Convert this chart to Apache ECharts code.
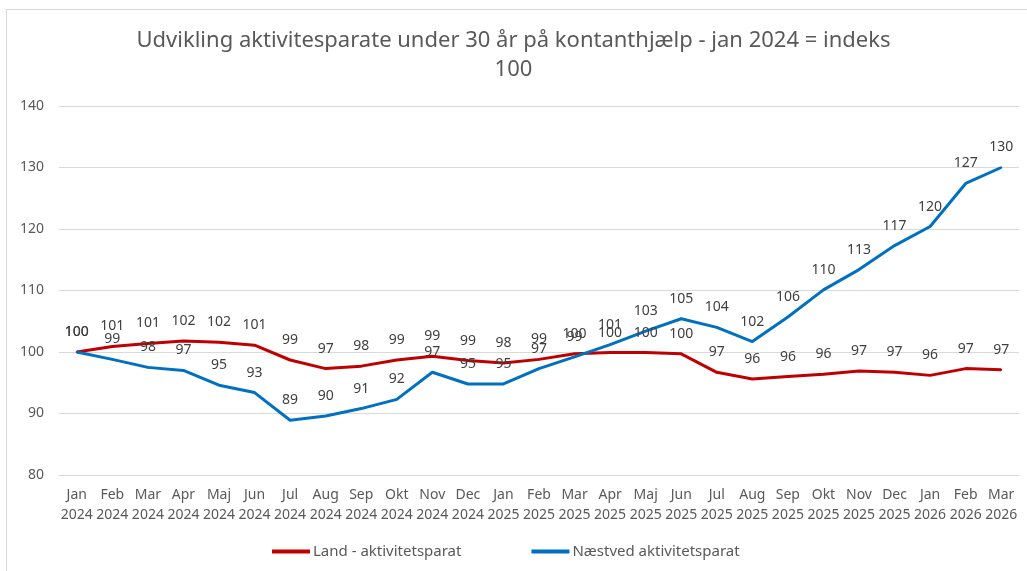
<!DOCTYPE html>
<html>
<head>
<meta charset="utf-8">
<script src="https://cdn.jsdelivr.net/npm/echarts@6/dist/echarts.min.js"></script>
<style>
    html, body { margin: 0; padding: 0; background: #fff; }
    #wrap { position: relative; width: 1027px; height: 571px; overflow: hidden; }
    #main { width: 1027px; height: 571px; }
    /* 外框 */
    #frame { position: absolute; left: 6px; top: 9px; width: 1040px; height: 600px;
        border-left: 1px solid #d9d9d9; border-top: 1px solid #d9d9d9; pointer-events: none; }
</style>
</head>
<body>
<div id="wrap">
    <div id="main"></div>
    <div id="frame"></div>
</div>
<script>
// 类目
var months = ['Jan', 'Feb', 'Mar', 'Apr', 'Maj', 'Jun', 'Jul', 'Aug', 'Sep', 'Okt', 'Nov', 'Dec',
    'Jan', 'Feb', 'Mar', 'Apr', 'Maj', 'Jun', 'Jul', 'Aug', 'Sep', 'Okt', 'Nov', 'Dec',
    'Jan', 'Feb', 'Mar']
var years = ['2024', '2024', '2024', '2024', '2024', '2024', '2024', '2024', '2024', '2024', '2024', '2024',
    '2025', '2025', '2025', '2025', '2025', '2025', '2025', '2025', '2025', '2025', '2025', '2025',
    '2026', '2026', '2026']
// 数据
var land = [100, 100.9, 101.4, 101.8, 101.6, 101.1, 98.7, 97.3, 97.7, 98.7, 99.3, 98.6,
    98.2, 98.8, 99.7, 99.9, 99.9, 99.7, 96.7, 95.6, 96.0, 96.4, 96.9, 96.7,
    96.2, 97.3, 97.1]
var naestved = [100, 98.8, 97.5, 97.0, 94.6, 93.4, 88.9, 89.6, 90.8, 92.3, 96.7, 94.8,
    94.8, 97.3, 99.2, 101.2, 103.4, 105.4, 104.0, 101.7, 105.7, 110.1, 113.4, 117.3,
    120.4, 127.4, 130.0]
var yTicks = [80, 90, 100, 110, 120, 130, 140]

var categories = []
for (var i = 0; i < months.length; i++) {
    categories.push(months[i] + '\n' + years[i])
}

var myChart = echarts.init(document.getElementById('main'))
var font = '"Noto Sans", sans-serif'

function lineSeries(name, data, color) {
    return {
        name: name,
        type: 'line',
        data: data,
        symbol: 'circle',
        symbolSize: 2,
        itemStyle: { color: color },
        lineStyle: { color: color, width: 3 },
        label: {
            show: true,
            position: 'top',
            distance: 12,
            color: '#404040',
            fontSize: 14,
            fontFamily: font,
            formatter: function (p) { return Math.round(p.value) }
        }
    }
}

var option = {
    animation: false,
    title: {
        text: 'Udvikling aktivitesparate under 30 år på kontanthjælp - jan 2024 = indeks\n100',
        left: 'center',
        top: 21,
        textStyle: {
            fontSize: 22,
            fontWeight: 'normal',
            color: '#595959',
            fontFamily: font,
            lineHeight: 29
        }
    },
    legend: {
        bottom: 7,
        left: 267,
        icon: 'rect',
        itemWidth: 38,
        itemHeight: 4,
        itemGap: 70,
        textStyle: { color: '#595959', fontSize: 15, fontFamily: font, padding: [0, 0, 0, -2] },
        data: ['Land - aktivitetsparat', 'Næstved aktivitetsparat']
    },
    grid: {
        left: 59,
        right: 8,
        top: 106,
        bottom: 96
    },
    xAxis: {
        type: 'category',
        data: categories,
        axisTick: { show: false },
        axisLine: { show: true, lineStyle: { color: '#d9d9d9' } },
        axisLabel: {
            interval: 0,
            color: '#595959',
            fontSize: 14,
            fontFamily: font,
            lineHeight: 20,
            margin: 10
        }
    },
    yAxis: {
        type: 'value',
        min: yTicks[0],
        max: yTicks[yTicks.length - 1],
        interval: 10,
        axisLabel: { color: '#595959', fontSize: 14, fontFamily: font, margin: 15 },
        splitLine: { lineStyle: { color: '#d9d9d9' } },
        axisLine: { show: false },
        axisTick: { show: false }
    },
    series: [
        lineSeries('Land - aktivitetsparat', land, '#C00000'),
        lineSeries('Næstved aktivitetsparat', naestved, '#0070C0')
    ]
}
myChart.setOption(option)
</script>
</body>
</html>
